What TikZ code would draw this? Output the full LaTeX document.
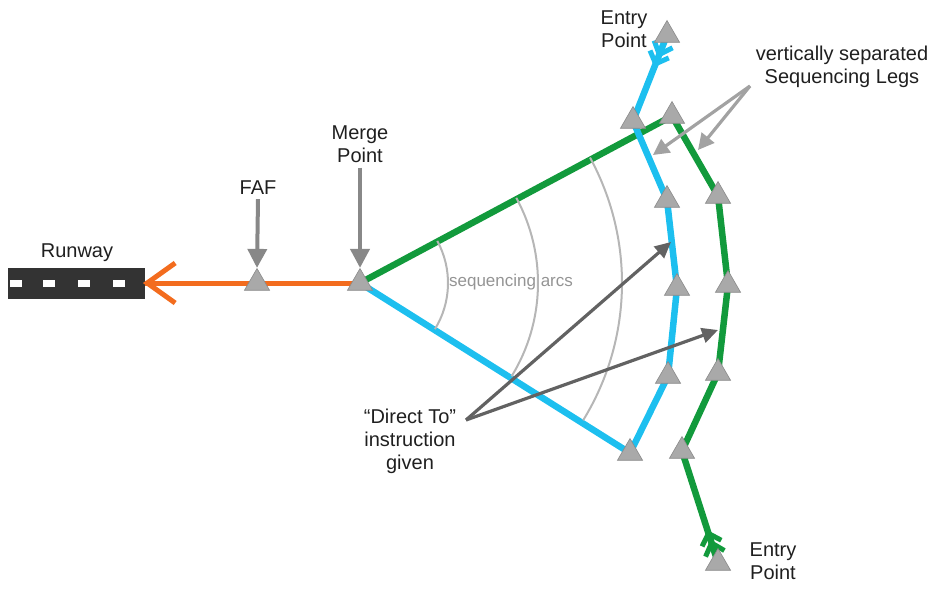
\documentclass[tikz,border=0pt]{standalone}
\usepackage{fontspec}
\setmainfont{Liberation Sans}
\usetikzlibrary{shapes.geometric,arrows.meta,calc}

\definecolor{legblue}{HTML}{1DBFEF}
\definecolor{leggreen}{HTML}{129A3C}
\definecolor{finalorange}{HTML}{F36C1E}
\definecolor{fixfill}{HTML}{A9A9A9}
\definecolor{fixline}{HTML}{8A8A8A}
\definecolor{calloutgray}{HTML}{888888}
\definecolor{leggray}{HTML}{A2A2A2}
\definecolor{directgray}{HTML}{626262}
\definecolor{arcgray}{HTML}{B6B6B6}
\definecolor{runwaygray}{HTML}{333333}

\begin{document}
\begin{tikzpicture}[x=1pt,y=-1pt,
  lbl/.style={font=\fontsize{20}{23}\selectfont, align=center, text=black!88, inner sep=0pt},
  fix/.style={regular polygon, regular polygon sides=3, minimum size=29pt, inner sep=0pt,
              fill=fixfill, draw=fixline, line width=0.6pt},
  bluelegline/.style={legblue, line width=6.5pt, line join=round, line cap=round},
  greenlegline/.style={leggreen, line width=6.5pt, line join=round, line cap=round},
  fletch/.style={line width=5pt, line join=miter},
  callout/.style={calloutgray, line width=4pt, -{Triangle[length=19pt,width=19pt]}},
  legcallout/.style={leggray, line width=3.2pt, -{Triangle[length=16pt,width=16pt]}},
  directcallout/.style={directgray, line width=3.2pt, -{Triangle[length=16pt,width=15pt]}},
  seqarc/.style={arcgray, line width=2pt}
]
\useasboundingbox (0,0) rectangle (941,592);

% fix positions
\coordinate (M) at (360,283);
\coordinate (F) at (257,283);
\coordinate (B0) at (667,35);
\coordinate (B1) at (633,121);
\coordinate (B2) at (667,200);
\coordinate (B3) at (677,288);
\coordinate (B4) at (668,376);
\coordinate (B5) at (630,453);
\coordinate (G1) at (672,116);
\coordinate (G2) at (718,196);
\coordinate (G3) at (728,285);
\coordinate (G4) at (718,373);
\coordinate (G5) at (682,451);
\coordinate (G6) at (718,563);

% runway
\node[fill=runwaygray, minimum width=137pt, minimum height=31pt, inner sep=0pt] (rw) at (76.5,283) {};
\foreach \dx in {16,49,84,119}
  \fill[white] (\dx-6,279.5) rectangle (\dx+6,286.5);
\node[lbl] (rwlbl) at (77,253) {Runway};

% final approach
\draw[finalorange, line width=5pt] (M) -- (rw.east);
\draw[finalorange, line width=5pt, line join=miter]
  ($(rw.east)+(30,-20)$) -- ($(rw.east)+(2,0)$) -- ($(rw.east)+(30,20)$);

% trombone legs
\draw[greenlegline] (M) -- (G1) -- (G2) -- (G3) -- (G4) -- (G5) -- (G6);
\draw[bluelegline] (M) -- (B5) -- (B4) -- (B3) -- (B2) -- (B1) -- (B0);

% entry fletching
\foreach \s/\d/\a in {21/14/45, 31/23/26}{
  \draw[fletch, legblue] ($(B0)!\d pt!\a:(B1)$) -- ($(B0)!\s pt!(B1)$) -- ($(B0)!\d pt!-\a:(B1)$);
  \draw[fletch, leggreen] ($(G6)!\d pt!\a:(G5)$) -- ($(G6)!\s pt!(G5)$) -- ($(G6)!\d pt!-\a:(G5)$);
}

% sequencing arcs around the merge point
\foreach \r in {88,178,262}
  \draw[seqarc] ($(M)+(-28.6:\r)$) arc[start angle=-28.6, end angle=31.6, radius=\r];
\node[font=\fontsize{17}{20}\selectfont, text=black!42, inner sep=0pt] (arclbl) at (511,282) {sequencing arcs};

% fixes
\node[fix] (faf) at (F) {};
\node[fix] (merge) at (M) {};
\foreach \p in {B0,B1,B2,B3,B4,B5,G1,G2,G3,G4,G5,G6}
  \node[fix] (fix\p) at (\p) {};

% labels and callouts
\node[lbl] (faflbl) at (258,188) {FAF};
\draw[callout] (faflbl.south) ++(0,4) -- (faf.north);
\node[lbl] (mergelbl) at (360,144) {Merge\\Point};
\draw[callout] (mergelbl.south) ++(0,5) -- (merge.north);

\node[lbl] (entrytop) at (624,29) {Entry\\Point};
\node[lbl] (entrybot) at (773,561) {Entry\\Point};

\node[lbl] (leglbl) at (842,67) {vertically separated\\Sequencing Legs};
\coordinate (legfrom) at (750,86);
\coordinate (blueleg) at (653,155);
\coordinate (greenleg) at (698,150);
\draw[legcallout] (legfrom) -- (blueleg);
\draw[legcallout] (legfrom) -- (greenleg);

\node[lbl] (directlbl) at (410,441) {“Direct To”\\instruction\\given};
\coordinate (directfrom) at (466,420);
\coordinate (bluedirect) at (671,242);
\coordinate (greendirect) at (718,330);
\draw[directcallout] (directfrom) -- (bluedirect);
\draw[directcallout] (directfrom) -- (greendirect);
\end{tikzpicture}
\end{document}
